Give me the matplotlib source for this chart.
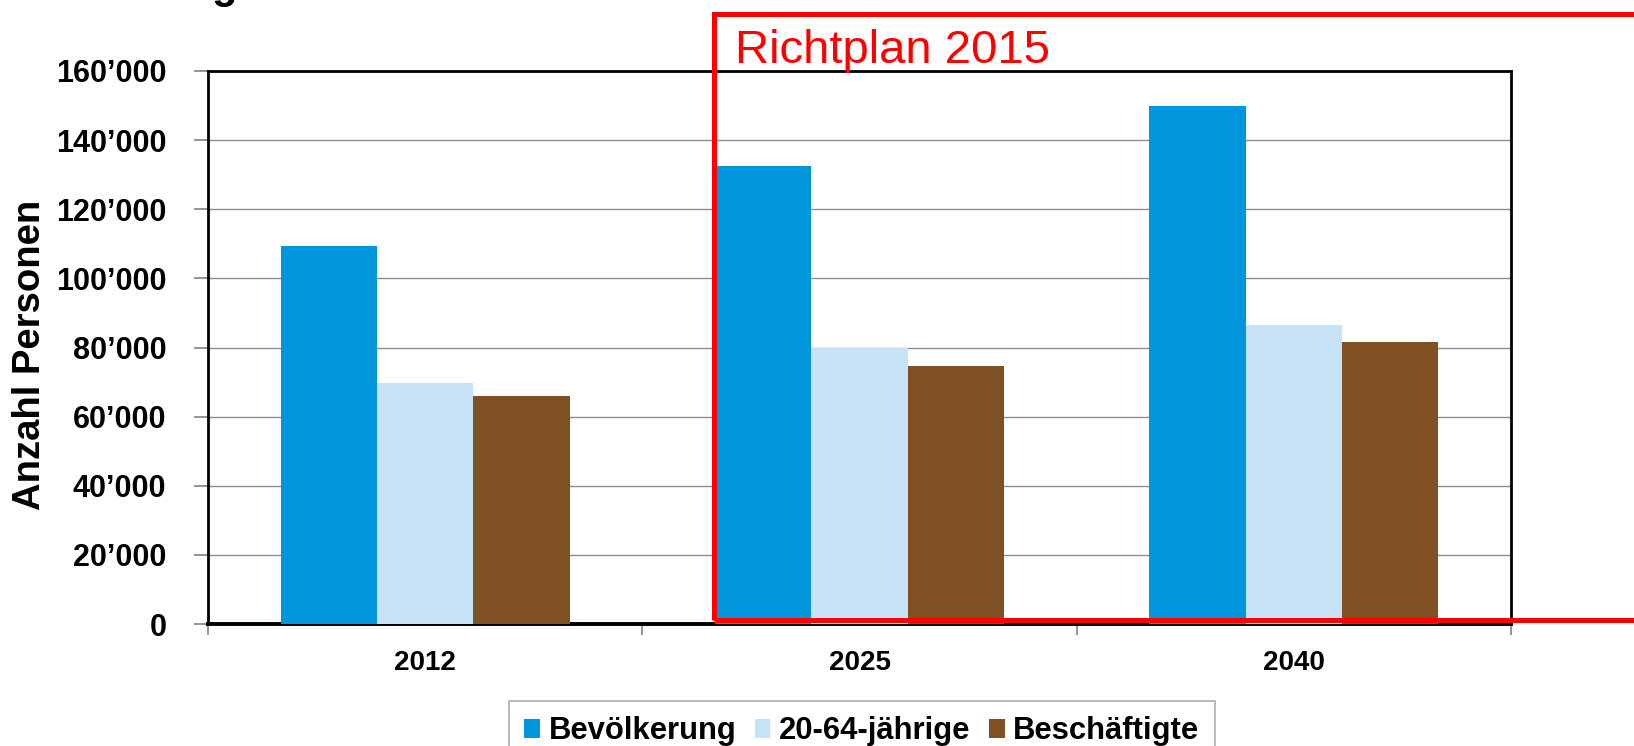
import matplotlib
matplotlib.use("Agg")
import matplotlib.pyplot as plt
import numpy as np
from matplotlib.patches import Patch, Rectangle
from matplotlib.ticker import FuncFormatter, FixedLocator

plt.rcParams['font.family'] = ['Liberation Sans', 'DejaVu Sans']

categories = ["2012", "2025", "2040"]
series_names = ["Bevölkerung", "20-64-jährige", "Beschäftigte"]
bevoelkerung = [109500, 132600, 150000]
jaehrige_20_64 = [69700, 79800, 86500]
beschaeftigte = [66000, 74700, 81700]
series_values = [bevoelkerung, jaehrige_20_64, beschaeftigte]
colors = ["#0096dd", "#c6e2f6", "#7e5022"]
y_ticks = [0, 20000, 40000, 60000, 80000, 100000, 120000, 140000, 160000]
annotation_text = "Richtplan 2015"

W, H = 1634, 746
fig = plt.figure(figsize=(W / 100, H / 100), dpi=100)
ax = fig.add_axes([208 / W, 1 - 624 / H, (1511 - 208) / W, (624 - 71) / H])

x = np.arange(len(categories))
bw = 0.222
for i, (vals, col) in enumerate(zip(series_values, colors)):
    ax.bar(x + (i - 1) * bw, vals, width=bw, color=col, label=series_names[i],
           zorder=3, linewidth=0)

ax.set_xlim(-0.5, len(categories) - 0.5)
ax.set_ylim(0, 160000)
ax.yaxis.set_major_locator(FixedLocator(y_ticks))
ax.yaxis.set_major_formatter(FuncFormatter(lambda v, p: "0" if v == 0 else f"{int(v/1000)}\u2019000"))
ax.grid(axis='y', color='#8c8c8c', linewidth=1.0, zorder=1)
ax.set_axisbelow(True)

ax.set_xticks(x)
ax.set_xticklabels(categories, fontsize=20, fontweight='bold')
ax.set_xticks(np.arange(len(categories) + 1) - 0.5, minor=True)
ax.tick_params(axis='x', which='major', length=0, pad=18.5)
ax.tick_params(axis='x', which='minor', length=8, width=1.2, color='#808080', direction='out')
ax.tick_params(axis='y', which='major', length=10, width=1.2, color='#808080',
               direction='out', labelsize=22, pad=20)
for lab in ax.get_yticklabels():
    lab.set_fontweight('bold')

for s in ['top', 'right', 'left']:
    ax.spines[s].set_color('black')
    ax.spines[s].set_linewidth(2.0)
ax.spines['bottom'].set_color('black')
ax.spines['bottom'].set_linewidth(2.8)

ax.set_ylabel("Anzahl Personen", fontsize=27.5, fontweight='bold')
ax.yaxis.set_label_coords(-0.1225, 0.487)

# Legend
handles = [Patch(facecolor=c, edgecolor='none') for c in colors]
leg = fig.legend(handles, series_names, loc='upper left',
                 bbox_to_anchor=(509 / W, 1 - 701 / H), ncol=3,
                 prop={'family': 'Liberation Sans', 'weight': 'bold', 'size': 22.3},
                 handlelength=0.5, handleheight=0.6, handletextpad=0.28,
                 columnspacing=0.6, borderpad=0.5, borderaxespad=0,
                 frameon=True, fancybox=False)
leg.get_frame().set_edgecolor('#9a9a9a')
leg.get_frame().set_linewidth(1.2)

# Red Richtplan box (annotation in figure pixel space)
rect = Rectangle((714 / W, 1 - 620 / H), (W + 20 - 714) / W, (620 - 14) / H,
                 transform=fig.transFigure, fill=False, edgecolor='#ff0000',
                 linewidth=3.6, clip_on=False, zorder=10)
fig.add_artist(rect)
fig.text(735 / W, 1 - 63 / H, annotation_text, color='#ff0000', fontsize=34,
         va='baseline', ha='left')

# Cut-off title fragment
fig.text(211 / W, 1 + 2 / H, "g", fontsize=30, fontweight='bold', va='baseline', ha='left')

fig.savefig("out.png", dpi=100)
